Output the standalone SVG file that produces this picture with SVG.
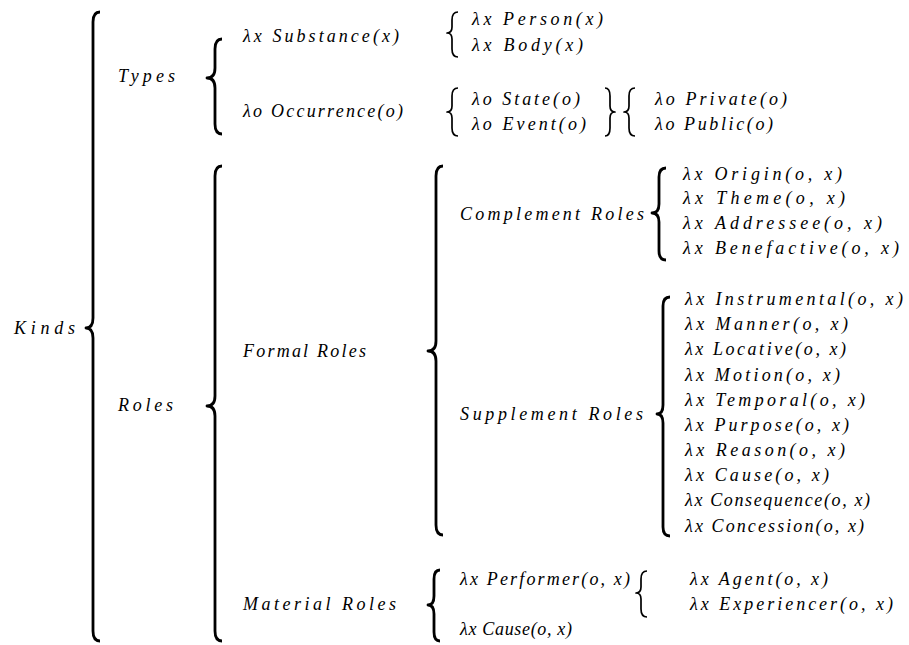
<svg xmlns="http://www.w3.org/2000/svg" width="909" height="645" viewBox="0 0 909 645">
<style>
text{font-family:"Liberation Serif","DejaVu Serif",serif;font-style:italic;font-size:18px;fill:#000}
.br{fill:none;stroke:#000;stroke-width:2.8;stroke-linecap:butt;stroke-linejoin:round}
.bs{fill:none;stroke:#000;stroke-width:1.7;stroke-linecap:butt;stroke-linejoin:round}
</style>
<rect width="909" height="645" fill="#fff"/>
<g id="connectors">
<path class="br" d="M100,12 Q93,12 93,22 L93,318 Q93,328 86,328 Q93,328 93,338 L93,631 Q93,641 100,641"/>
<path class="br" d="M222,39 Q215,39 215,49 L215,68 Q215,78 207,78 Q215,78 215,88 L215,124 Q215,134 222,134"/>
<path class="br" d="M222,166 Q215,166 215,176 L215,396 Q215,406 207,406 Q215,406 215,416 L215,631 Q215,641 222,641"/>
<path class="bs" d="M458,12 Q452,12 452,20 L452,27 Q452,33 447,33 Q452,33 452,39 L452,49 Q452,57 458,57"/>
<path class="bs" d="M458,88 Q452,88 452,96 L452,106 Q452,112 447,112 Q452,112 452,118 L452,128 Q452,136 458,136"/>
<path class="bs" d="M605,88 Q610,88 610,96 L610,106 Q610,112 615,112 Q610,112 610,118 L610,128 Q610,136 605,136"/>
<path class="bs" d="M635,88 Q629,88 629,96 L629,106 Q629,112 624,112 Q629,112 629,118 L629,128 Q629,136 635,136"/>
<path class="br" d="M443,166 Q436,166 436,176 L436,341 Q436,351 428,351 Q436,351 436,361 L436,525 Q436,535 443,535"/>
<path class="br" d="M666,168 Q659,168 659,177 L659,204 Q659,213 652,213 Q659,213 659,222 L659,251 Q659,260 666,260"/>
<path class="br" d="M670,297 Q663,297 663,306 L663,405 Q663,414 657,414 Q663,414 663,423 L663,527 Q663,536 670,536"/>
<path class="br" d="M440,570 Q434,570 434,579 L434,596 Q434,605 428,605 Q434,605 434,614 L434,632 Q434,641 440,641"/>
<path class="bs" d="M647,571 Q641,571 641,579 L641,587 Q641,593 636,593 Q641,593 641,599 L641,609 Q641,617 647,617"/>
</g>
<g id="kinds"><text x="14" y="334" textLength="61" lengthAdjust="spacing">Kinds</text></g>
<g id="types"><text x="118" y="82" textLength="57" lengthAdjust="spacing">Types</text></g>
<g id="roles"><text x="118" y="411" textLength="55" lengthAdjust="spacing">Roles</text></g>
<g id="substance"><text x="243" y="42" textLength="156" lengthAdjust="spacing">λx Substance(x)</text></g>
<g id="occurrence"><text x="243" y="117" textLength="160" lengthAdjust="spacing">λo Occurrence(o)</text></g>
<g id="person"><text x="472" y="25" textLength="131" lengthAdjust="spacing">λx Person(x)</text></g>
<g id="body"><text x="472" y="51" textLength="111" lengthAdjust="spacing">λx Body(x)</text></g>
<g id="state"><text x="472" y="105" textLength="108" lengthAdjust="spacing">λo State(o)</text></g>
<g id="event"><text x="472" y="130" textLength="114" lengthAdjust="spacing">λo Event(o)</text></g>
<g id="private"><text x="655" y="105" textLength="132" lengthAdjust="spacing">λo Private(o)</text></g>
<g id="public"><text x="655" y="130" textLength="118" lengthAdjust="spacing">λo Public(o)</text></g>
<g id="formal-roles"><text x="243" y="357" textLength="123" lengthAdjust="spacing">Formal Roles</text></g>
<g id="material-roles"><text x="243" y="610" textLength="153" lengthAdjust="spacing">Material Roles</text></g>
<g id="complement-roles"><text x="460" y="220" textLength="184" lengthAdjust="spacing">Complement Roles</text></g>
<g id="supplement-roles"><text x="460" y="420" textLength="183" lengthAdjust="spacing">Supplement Roles</text></g>
<g id="origin"><text x="683" y="180" textLength="159" lengthAdjust="spacing">λx Origin(o, x)</text></g>
<g id="theme"><text x="683" y="204" textLength="162" lengthAdjust="spacing">λx Theme(o, x)</text></g>
<g id="addressee"><text x="683" y="229" textLength="199" lengthAdjust="spacing">λx Addressee(o, x)</text></g>
<g id="benefactive"><text x="683" y="254" textLength="216" lengthAdjust="spacing">λx Benefactive(o, x)</text></g>
<g id="instrumental"><text x="685" y="305" textLength="218" lengthAdjust="spacing">λx Instrumental(o, x)</text></g>
<g id="manner"><text x="685" y="330" textLength="163" lengthAdjust="spacing">λx Manner(o, x)</text></g>
<g id="locative"><text x="685" y="355" textLength="161" lengthAdjust="spacing">λx Locative(o, x)</text></g>
<g id="motion"><text x="685" y="381" textLength="155" lengthAdjust="spacing">λx Motion(o, x)</text></g>
<g id="temporal"><text x="685" y="406" textLength="180" lengthAdjust="spacing">λx Temporal(o, x)</text></g>
<g id="purpose"><text x="685" y="431" textLength="164" lengthAdjust="spacing">λx Purpose(o, x)</text></g>
<g id="reason"><text x="685" y="456" textLength="160" lengthAdjust="spacing">λx Reason(o, x)</text></g>
<g id="cause-s"><text x="685" y="481" textLength="144" lengthAdjust="spacing">λx Cause(o, x)</text></g>
<g id="consequence"><text x="685" y="506" textLength="185" lengthAdjust="spacing">λx Consequence(o, x)</text></g>
<g id="concession"><text x="685" y="532" textLength="179" lengthAdjust="spacing">λx Concession(o, x)</text></g>
<g id="performer"><text x="460" y="585" textLength="170" lengthAdjust="spacing">λx Performer(o, x)</text></g>
<g id="cause-m"><text x="460" y="635" textLength="112" lengthAdjust="spacing">λx Cause(o, x)</text></g>
<g id="agent"><text x="690" y="585" textLength="138" lengthAdjust="spacing">λx Agent(o, x)</text></g>
<g id="experiencer"><text x="690" y="610" textLength="203" lengthAdjust="spacing">λx Experiencer(o, x)</text></g>
</svg>
